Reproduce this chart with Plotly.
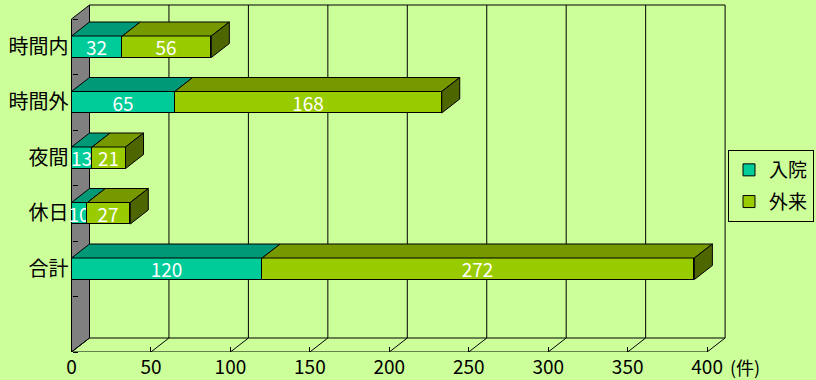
import plotly.graph_objects as go

# ---------------- data ----------------
categories = ["時間内", "時間外", "夜間", "休日", "合計"]
inpatient = [32, 65, 13, 10, 120]
outpatient = [56, 168, 21, 27, 272]
x_ticks = [0, 50, 100, 150, 200, 250, 300, 350, 400]
series_names = ["入院", "外来"]
unit_label = "(件)"

# ---------------- style / geometry ----------------
BG = "#CCFF99"
WALL = "#808080"
FRONT = ["#00CC99", "#99CC00"]
TOP = ["#009977", "#779900"]
SIDE = "#4D6600"
FONT = "Noto Sans CJK JP"

W, H = 816, 380
PX_PER_UNIT = 1.589      # front plane: pixels per value unit
ZERO_PX = 71.5           # pixel of value 0 on front plane
FRONT_TOP_PX = 19
FRONT_BOT_PX = 352
N_SLOTS = len(categories) + 1
SLOT_PX = (FRONT_BOT_PX - FRONT_TOP_PX) / N_SLOTS
DEPTH_X_PX, DEPTH_Y_PX = 18, 14
BAR_W = 21.5 / SLOT_PX

PLOT_L, PLOT_R, PLOT_T, PLOT_B = 66, 816, 2, FRONT_BOT_PX

xmin = (PLOT_L - ZERO_PX) / PX_PER_UNIT
xmax = (PLOT_R - ZERO_PX) / PX_PER_UNIT
y_front_top = -0.5
y_front_bot = N_SLOTS - 0.5
y_top_range = y_front_top - (FRONT_TOP_PX - PLOT_T) / SLOT_PX
DXU = DEPTH_X_PX / PX_PER_UNIT
DYU = DEPTH_Y_PX / SLOT_PX
XMAX_VAL = x_ticks[-1]

ypos = list(range(len(categories)))

fig = go.Figure()

# front faces of the stacked bars
for name, vals, col in zip(series_names, [inpatient, outpatient], FRONT):
    fig.add_trace(go.Bar(
        name=name, legendgroup=name, y=ypos, x=vals, orientation="h", width=BAR_W,
        marker=dict(color=col, line=dict(color="black", width=1)),
        text=[str(v) for v in vals], textposition="inside",
        insidetextanchor="middle", constraintext="none", textangle=0,
        textfont=dict(color="white", size=19, family=FONT),
        hoverinfo="skip",
    ))

# 3D top faces and side faces computed from the data
def poly_trace(polys, color):
    xs, ys = [], []
    for p in polys:
        for (px, py) in p + [p[0]]:
            xs.append(px); ys.append(py)
        xs.append(None); ys.append(None)
    return go.Scatter(x=xs, y=ys, mode="lines", fill="toself", fillcolor=color,
                      line=dict(color="black", width=1), showlegend=False,
                      hoverinfo="skip")

starts = [[0] * len(inpatient), inpatient]
for s, (vals, base) in enumerate(zip([inpatient, outpatient], starts)):
    tops = []
    for i, (v, b) in enumerate(zip(vals, base)):
        x0, x1 = b, b + v
        yt = i - BAR_W / 2
        tops.append([(x0, yt), (x1, yt), (x1 + DXU, yt - DYU), (x0 + DXU, yt - DYU)])
    fig.add_trace(poly_trace(tops, TOP[s]))

sides = []
for i, (a, b) in enumerate(zip(inpatient, outpatient)):
    x1 = a + b
    yt, yb = i - BAR_W / 2, i + BAR_W / 2
    sides.append([(x1, yt), (x1 + DXU, yt - DYU), (x1 + DXU, yb - DYU), (x1, yb)])
fig.add_trace(poly_trace(sides, SIDE))

# walls, floor and gridlines
shapes = []
shapes.append(dict(type="path", layer="below",
                   path=f"M0,{y_front_top} L{DXU},{y_front_top - DYU} L{DXU},{y_front_bot - DYU} L0,{y_front_bot} Z",
                   fillcolor=WALL, line=dict(color="black", width=1)))
shapes.append(dict(type="rect", layer="below", x0=DXU, x1=XMAX_VAL + DXU,
                   y0=y_front_top - DYU, y1=y_front_bot - DYU,
                   line=dict(color="black", width=1)))
for v in x_ticks[1:-1]:
    shapes.append(dict(type="line", layer="below", x0=v + DXU, x1=v + DXU,
                       y0=y_front_top - DYU, y1=y_front_bot - DYU,
                       line=dict(color="black", width=1)))
for v in x_ticks:
    shapes.append(dict(type="line", layer="below", x0=v, x1=v + DXU,
                       y0=y_front_bot, y1=y_front_bot - DYU,
                       line=dict(color="black", width=1)))
shapes.append(dict(type="line", layer="below", x0=0, x1=XMAX_VAL,
                   y0=y_front_bot, y1=y_front_bot, line=dict(color="black", width=1)))

fig.update_layout(
    width=W, height=H,
    margin=dict(l=PLOT_L, r=W - PLOT_R, t=PLOT_T, b=H - PLOT_B, pad=0, autoexpand=False),
    paper_bgcolor=BG, plot_bgcolor=BG,
    barmode="stack", bargap=0,
    font=dict(family=FONT, size=19, color="black"),
    shapes=shapes,
    showlegend=True,
    legend=dict(x=(728 - PLOT_L) / (PLOT_R - PLOT_L), y=(PLOT_B - 150) / (PLOT_B - PLOT_T),
                xanchor="left", yanchor="top", traceorder="grouped",
                tracegroupgap=4, itemwidth=30,
                bgcolor=BG, bordercolor="black", borderwidth=1,
                font=dict(size=19, family=FONT)),
    xaxis=dict(range=[xmin, xmax], tickmode="array", tickvals=x_ticks,
               ticks="inside", ticklen=5, tickcolor="black", tickwidth=1,
               showgrid=False, zeroline=False, showline=False, automargin=False,
               ticklabelstandoff=2,
               tickfont=dict(size=19, family=FONT)),
    yaxis=dict(range=[y_front_bot, y_top_range], tickmode="array",
               tickvals=ypos, ticktext=categories, ticks="",
               anchor="free", position=(ZERO_PX - PLOT_L) / (PLOT_R - PLOT_L),
               showgrid=False, zeroline=False, showline=False, automargin=False,
               ticklabelstandoff=3,
               tickfont=dict(size=20, family=FONT),
               minor=dict(tickmode="array",
                          tickvals=[k - 0.5 for k in range(N_SLOTS + 1)],
                          ticks="inside", ticklen=5, tickcolor="black",
                          tickwidth=1, showgrid=False)),
    annotations=[dict(text=unit_label, xref="x", yref="paper", x=XMAX_VAL, y=0,
                      xanchor="left", yanchor="middle", xshift=21, yshift=-15,
                      showarrow=False, font=dict(size=18, family=FONT))],
)

fig.write_html("out.html", config={"displayModeBar": False},
               post_script="document.body.style.margin='0';document.body.style.overflow='hidden';")
